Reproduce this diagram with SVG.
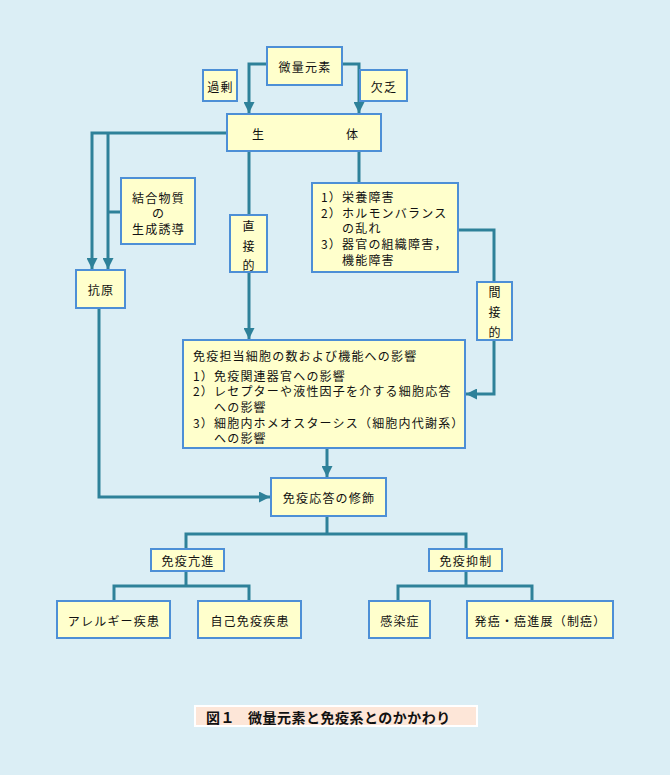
<svg xmlns="http://www.w3.org/2000/svg" width="670" height="775" viewBox="0 0 670 775">
<defs>
<style>
.bg{fill:#dbeef5}
.box{fill:#ffffcc;stroke:#4d8fd6;stroke-width:2}
.ln{fill:none;stroke:#2e8199;stroke-width:3;stroke-linejoin:miter}
.t{font-family:"Noto Sans CJK JP","Noto Sans CJK SC",sans-serif;font-size:12px;letter-spacing:1.2px;fill:#111}
.c{text-anchor:middle;dominant-baseline:central}
.cap{font-family:"Noto Sans CJK JP","Noto Sans CJK SC",sans-serif;font-size:14px;letter-spacing:0.5px;font-weight:bold;fill:#111;dominant-baseline:central}
</style>
<marker id="ah" viewBox="0 0 10 10" refX="10" refY="5" markerWidth="11" markerHeight="11" markerUnits="userSpaceOnUse" orient="auto">
<path d="M0,0 L10,5 L0,10 Z" fill="#2e8199"/>
</marker>
</defs>
<rect class="bg" x="0" y="0" width="670" height="775"/>

<g id="connectors">
<polyline class="ln" points="267,64 249,64 249,113" marker-end="url(#ah)"/>
<polyline class="ln" points="342,64 359,64 359,113" marker-end="url(#ah)"/>
<polyline class="ln" points="227,133 92,133 92,269" marker-end="url(#ah)"/>
<polyline class="ln" points="108,133 108,269" marker-end="url(#ah)"/>
<polyline class="ln" points="121,212 108,212"/>
<polyline class="ln" points="249,151 249,215"/>
<polyline class="ln" points="249,272 249,339" marker-end="url(#ah)"/>
<polyline class="ln" points="359,151 359,183"/>
<polyline class="ln" points="458,230 494,230 494,282"/>
<polyline class="ln" points="494,340 494,394 466,394" marker-end="url(#ah)"/>
<polyline class="ln" points="99,308 99,497 270,497" marker-end="url(#ah)"/>
<polyline class="ln" points="327,448 327,477" marker-end="url(#ah)"/>
<polyline class="ln" points="327,516 327,534"/>
<polyline class="ln" points="186,549 186,534 466,534 466,549"/>
<polyline class="ln" points="186,571 186,586"/>
<polyline class="ln" points="114,601 114,586 249,586 249,601"/>
<polyline class="ln" points="466,571 466,586"/>
<polyline class="ln" points="398,601 398,586 532,586 532,601"/>
</g>

<g id="n-biryo"><rect class="box" x="267" y="47" width="75" height="38"/><text class="t c" x="305" y="66">微量元素</text></g>
<g id="n-kajo"><rect class="box" x="203" y="70" width="34" height="31"/><text class="t c" x="220.5" y="86">過剰</text></g>
<g id="n-ketsubo"><rect class="box" x="360" y="70" width="47" height="31"/><text class="t c" x="384" y="86">欠乏</text></g>
<g id="n-seitai"><rect class="box" x="227" y="114" width="154" height="37"/><text class="t c" x="258.5" y="133">生</text><text class="t c" x="352.5" y="133">体</text></g>
<g id="n-ketsugo"><rect class="box" x="121" y="178" width="74" height="66"/><text class="t c" x="158.5" y="197">結合物質</text><text class="t c" x="158.5" y="212">の</text><text class="t c" x="158.5" y="228">生成誘導</text></g>
<g id="n-kogen"><rect class="box" x="76" y="270" width="49" height="38"/><text class="t c" x="101" y="289">抗原</text></g>
<g id="n-chokusetsu"><rect class="box" x="230" y="215" width="37" height="57"/><text class="t c" x="249" y="225">直</text><text class="t c" x="249" y="245">接</text><text class="t c" x="249" y="264">的</text></g>
<g id="n-shogai"><rect class="box" x="312" y="183" width="146" height="89"/>
<text class="t" x="321" y="202">1）</text><text class="t" x="342" y="202">栄養障害</text>
<text class="t" x="321" y="217.5">2）</text><text class="t" x="342" y="217.5">ホルモンバランス</text>
<text class="t" x="342" y="233">の乱れ</text>
<text class="t" x="321" y="249">3）</text><text class="t" x="342" y="249">器官の組織障害，</text>
<text class="t" x="342" y="265">機能障害</text>
</g>
<g id="n-kansetsu"><rect class="box" x="477" y="282" width="35" height="58"/><text class="t c" x="495" y="291">間</text><text class="t c" x="495" y="311">接</text><text class="t c" x="495" y="331">的</text></g>
<g id="n-eikyo"><rect class="box" x="183" y="340" width="282" height="108"/>
<text class="t" x="193" y="361">免疫担当細胞の数および機能への影響</text>
<text class="t" x="193" y="381">1）</text><text class="t" x="214" y="381">免疫関連器官への影響</text>
<text class="t" x="193" y="396">2）</text><text class="t" x="214" y="396">レセプターや液性因子を介する細胞応答</text>
<text class="t" x="214" y="412">への影響</text>
<text class="t" x="193" y="427.5">3）</text><text class="t" x="214" y="427.5">細胞内ホメオスターシス（細胞内代謝系）</text>
<text class="t" x="214" y="443">への影響</text>
</g>
<g id="n-shushoku"><rect class="box" x="271" y="478" width="115" height="38"/><text class="t c" x="329" y="497">免疫応答の修飾</text></g>
<g id="n-koshin"><rect class="box" x="151" y="549" width="73" height="22"/><text class="t c" x="188" y="560">免疫亢進</text></g>
<g id="n-yokusei"><rect class="box" x="429" y="549" width="73" height="22"/><text class="t c" x="466" y="560">免疫抑制</text></g>
<g id="n-allergy"><rect class="box" x="57" y="601" width="113" height="37"/><text class="t c" x="114" y="620">アレルギー疾患</text></g>
<g id="n-jiko"><rect class="box" x="198" y="601" width="103" height="37"/><text class="t c" x="250" y="620">自己免疫疾患</text></g>
<g id="n-kansen"><rect class="box" x="369" y="601" width="61" height="37"/><text class="t c" x="400" y="620">感染症</text></g>
<g id="n-hatsugan"><rect class="box" x="467" y="601" width="146" height="37"/><text class="t c" x="540.5" y="620">発癌・癌進展（制癌）</text></g>

<g id="caption"><rect x="195" y="706" width="282" height="20" fill="#fde6d8" stroke="#ffffff" stroke-width="2"/>
<text class="cap" x="206" y="716.5">図１</text><text class="cap" x="248" y="716.5">微量元素と免疫系とのかかわり</text></g>
</svg>
